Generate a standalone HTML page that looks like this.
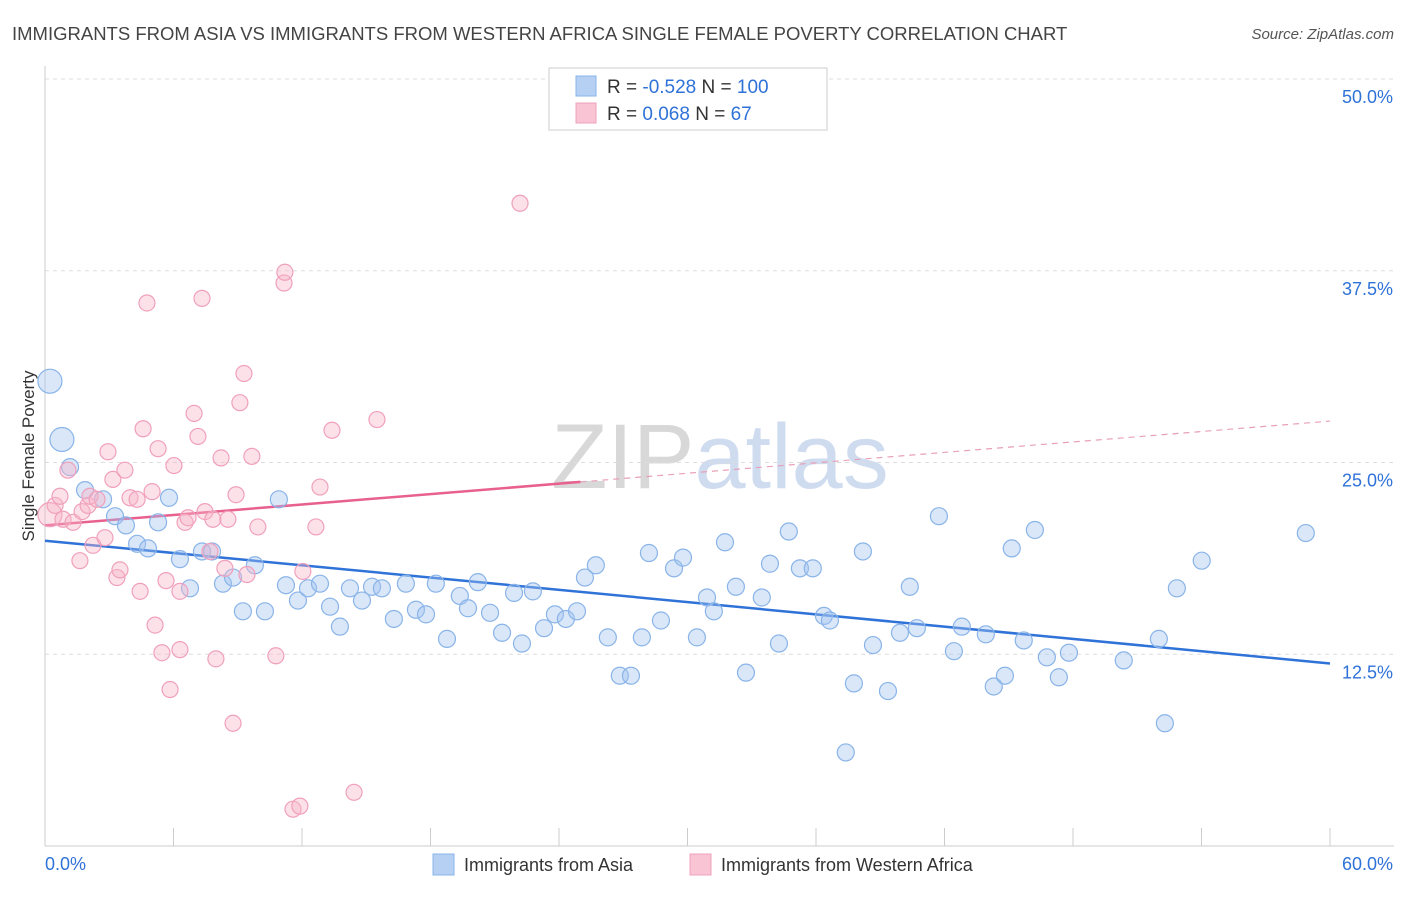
<!DOCTYPE html>
<html><head><meta charset="utf-8"><style>
body{margin:0;background:#fff;font-family:"Liberation Sans",sans-serif;}
svg text{font-family:"Liberation Sans",sans-serif;}
</style></head><body>
<svg id="chart" width="1406" height="892" xmlns="http://www.w3.org/2000/svg">
<text x="12" y="40" font-size="18.5" fill="#444">IMMIGRANTS FROM ASIA VS IMMIGRANTS FROM WESTERN AFRICA SINGLE FEMALE POVERTY CORRELATION CHART</text>
<text x="1394" y="39" font-size="15" fill="#555" text-anchor="end" font-style="italic">Source: ZipAtlas.com</text>
<text x="720" y="488" font-size="92" text-anchor="middle" fill="#e4e4e4" font-family="Liberation Serif"><tspan fill="#d8d8d8">ZIP</tspan><tspan fill="#cfdcf0" font-family="Liberation Sans">atlas</tspan></text>
<g id="grid"></g>
<g id="axes"></g>
<g id="lines"></g>
<g id="pts"></g>
<text transform="translate(34,456) rotate(-90)" font-size="17" fill="#333" text-anchor="middle">Single Female Poverty</text>
<g>
<rect x="549" y="68" width="278" height="62" fill="#fff" stroke="#ccc"/>
<rect x="576" y="76" width="20" height="20" fill="#b5d0f3" stroke="#8ab4e8"/>
<rect x="576" y="103" width="20" height="20" fill="#f9c4d4" stroke="#f0a0bc"/>
<text x="607" y="93" font-size="19" fill="#333">R = <tspan fill="#2f72d8">-0.528</tspan>   N = <tspan fill="#2f72d8">100</tspan></text>
<text x="607" y="120" font-size="19" fill="#333">R =  <tspan fill="#2f72d8">0.068</tspan>   N =   <tspan fill="#2f72d8">67</tspan></text>
</g>
<g>
<rect x="433" y="854" width="21" height="21" fill="#b5d0f3" stroke="#8ab4e8"/>
<text x="464" y="871" font-size="18" fill="#333">Immigrants from Asia</text>
<rect x="690" y="854" width="21" height="21" fill="#f9c4d4" stroke="#f0a0bc"/>
<text x="721" y="871" font-size="18" fill="#333">Immigrants from Western Africa</text>
</g>
</svg>
<script>
const xTicks=[0,6,12,18,24,30,36,42,48,54,60];
const yTicks=[12.5,25,37.5,50];
const yTickLabels=["12.5%","25.0%","37.5%","50.0%"];
const asiaX=[0.23,0.79,1.17,1.87,2.71,3.27,3.78,4.30,4.81,5.28,5.79,6.30,6.77,7.33,7.80,8.31,8.78,9.24,9.80,10.27,10.92,11.25,11.81,12.28,12.84,13.31,13.77,14.24,14.80,15.27,15.73,16.29,16.85,17.32,17.79,18.25,18.77,19.37,19.75,20.21,20.78,21.34,21.90,22.27,22.78,23.30,23.81,24.32,24.84,25.21,25.72,26.28,26.84,27.36,27.87,28.20,28.76,29.37,29.79,30.44,30.91,31.23,31.75,32.26,32.73,33.47,33.85,34.27,34.73,35.25,35.85,36.37,36.65,37.39,37.77,38.19,38.66,39.36,39.92,40.38,40.71,41.74,42.44,42.81,43.93,44.30,44.82,45.14,45.70,46.22,46.78,47.34,47.81,50.37,52.01,52.29,52.85,54.01,58.87];
const asiaY=[30.3,26.5,24.7,23.2,22.6,21.5,20.9,19.7,19.4,21.1,22.7,18.7,16.8,19.2,19.2,17.1,17.5,15.3,18.3,15.3,22.6,17.0,16.0,16.8,17.1,15.6,14.3,16.8,16.0,16.9,16.8,14.8,17.1,15.4,15.1,17.1,13.5,16.3,15.5,17.2,15.2,13.9,16.5,13.2,16.6,14.2,15.1,14.8,15.3,17.5,18.3,13.6,11.1,11.1,13.6,19.1,14.7,18.1,18.8,13.6,16.2,15.3,19.8,16.9,11.3,16.2,18.4,13.2,20.5,18.1,18.1,15.0,14.7,6.1,10.6,19.2,13.1,10.1,13.9,16.9,14.2,21.5,12.7,14.3,13.8,10.4,11.1,19.4,13.4,20.6,12.3,11.0,12.6,12.1,13.5,8.0,16.8,18.6,20.4];
const africaX=[0.23,0.47,0.70,0.84,1.07,1.31,1.73,2.01,2.10,2.24,1.63,2.43,2.80,2.94,3.17,3.36,3.50,3.73,3.97,4.30,4.44,4.58,4.76,5.00,5.14,5.28,5.46,5.65,5.84,6.02,6.30,6.30,6.54,6.68,6.96,7.14,7.33,7.47,7.70,7.84,7.98,8.22,8.40,8.54,8.78,8.92,9.10,9.29,9.43,9.66,9.94,10.78,11.16,11.20,11.58,11.90,12.04,12.65,12.84,13.40,14.43,15.50,22.18];
const africaY=[21.6,22.2,22.8,21.3,24.5,21.1,21.8,22.2,22.8,19.6,18.6,22.6,20.1,25.7,23.9,17.5,18.0,24.5,22.7,22.6,16.6,27.2,35.4,23.1,14.4,25.9,12.6,17.3,10.2,24.8,16.6,12.8,21.1,21.4,28.2,26.7,35.7,21.8,19.2,21.3,12.2,25.3,18.1,21.3,8.0,22.9,28.9,30.8,17.7,25.4,20.8,12.4,36.7,37.4,2.4,2.6,17.9,20.8,23.4,27.1,3.5,27.8,41.9];
const asiaTrend=[19.9,11.9];
const africaTrend=[20.9,27.7];
const africaSolidEnd=25;

const NS="http://www.w3.org/2000/svg";
const X=v=>45+v/60*1285;
const Y=v=>846-v*15.34;
function mk(tag,parent,attrs){const e=document.createElementNS(NS,tag);for(const k in attrs)e.setAttribute(k,attrs[k]);document.getElementById(parent).appendChild(e);return e;}
yTicks.forEach((t,i)=>{
  const l=mk('line','grid',{x1:45,x2:1394,y1:Y(t),y2:Y(t),stroke:'#ddd','stroke-dasharray':'4,4'});
  
  
  const tx=mk('text','grid',{x:1393,y:Y(t)+24,'font-size':18,fill:'#2f72d8','text-anchor':'end'});
  tx.textContent=yTickLabels[i];
  
  
});
const a1=mk('line','axes',{x1:45,x2:1394,y1:846,y2:846,stroke:'#ccc'});


const a2=mk('line','axes',{x1:45,x2:45,y1:66,y2:846,stroke:'#ccc'});


xTicks.forEach(t=>{
  const l=mk('line','axes',{x1:X(t),x2:X(t),y1:828,y2:846,stroke:'#ccc'});
  
  
});
const xl=mk('text','axes',{x:45,y:870,'font-size':18,fill:'#2f72d8'});xl.textContent='0.0%';


const xr=mk('text','axes',{x:1393,y:870,'font-size':18,fill:'#2f72d8','text-anchor':'end'});xr.textContent='60.0%';


asiaX.forEach((x,i)=>{
  const c=mk('circle','pts',{cx:X(x),cy:Y(asiaY[i]),r:i<2?12:8.5,fill:'rgba(160,196,240,0.4)',stroke:'#8ab4e8','stroke-width':1.2});
  
  
});
africaX.forEach((x,i)=>{
  const c=mk('circle','pts',{cx:X(x),cy:Y(africaY[i]),r:i==0?12:8,fill:'rgba(248,180,200,0.4)',stroke:'#f0a0bc','stroke-width':1.2});
  
  
});
const bl=mk('line','lines',{x1:X(0),y1:Y(asiaTrend[0]),x2:X(60),y2:Y(asiaTrend[1]),stroke:'#2f72d8','stroke-width':2.5});


const ay=x=>africaTrend[0]+(africaTrend[1]-africaTrend[0])*x/60;
const ps=mk('line','lines',{x1:X(0),y1:Y(ay(0)),x2:X(africaSolidEnd),y2:Y(ay(africaSolidEnd)),stroke:'#e8608f','stroke-width':2.5});


const pd=mk('line','lines',{x1:X(africaSolidEnd),y1:Y(ay(africaSolidEnd)),x2:X(60),y2:Y(ay(60)),stroke:'#e8a0b8','stroke-width':1.2,'stroke-dasharray':'6,5'});


</script>
</body></html>
